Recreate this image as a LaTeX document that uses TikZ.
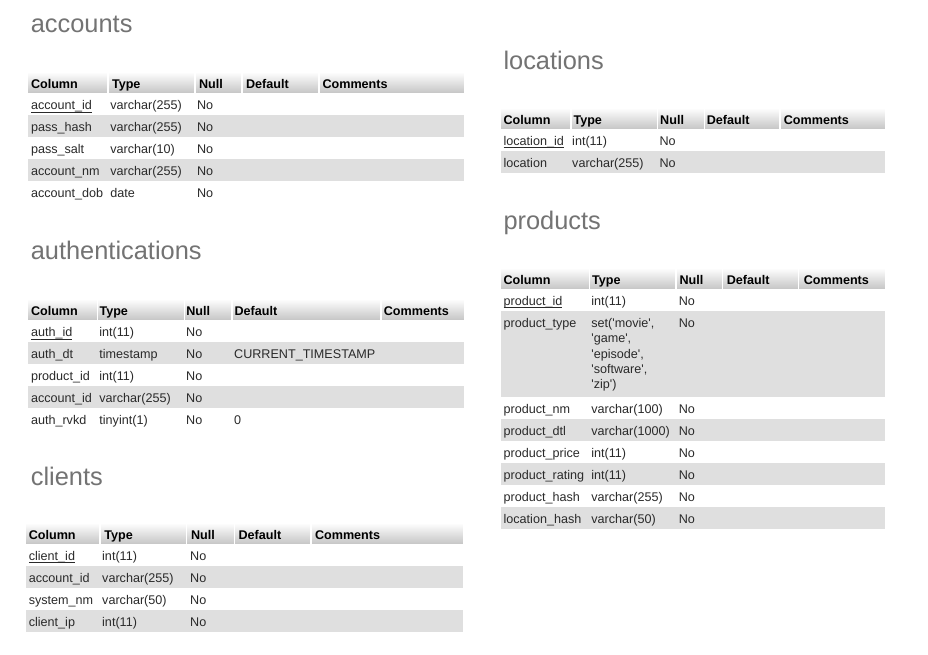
\documentclass[tikz,border=0pt]{standalone}
\usepackage{fontspec}
\setmainfont{Liberation Sans}
\definecolor{rowgray}{HTML}{DFDFDF}
\definecolor{hdrbot}{HTML}{C8C8C8}
\definecolor{titlec}{HTML}{737373}
\definecolor{txt}{HTML}{2A2A2A}
\newcommand\hcell[6]{% name, x0, x1, ytop, textx, text
  \foreach \k in {0,...,20}{%
    \pgfmathtruncatemacro\pct{5*\k}%
    \fill[hdrbot!\pct!white] (#2,#4+\k) rectangle (#3,#4+\k+1.02);}
  \node[hdrtext] (#1) at (#5,#4+16.3) {#6};}
\newcommand\dcell[4]{% name, x, baseline, text
  \node[celltext] (#1) at (#2,#3) {#4};}
\newcommand\grayrow[4]{\fill[rowgray] (#1,#2) rectangle (#3,#4);}
\newcommand\ulnode[1]{\draw[ulline] ([yshift=-2.2pt]#1.base west) -- ([yshift=-2.2pt]#1.base east);}
\newcommand\q{\textquotesingle}
\begin{document}
\begin{tikzpicture}[x=1pt,y=-1pt,
  hdrtext/.style={anchor=base west,inner sep=0pt,outer sep=0pt,font=\fontsize{12.6}{15}\selectfont\bfseries,text=black},
  celltext/.style={anchor=base west,inner sep=0pt,outer sep=0pt,font=\fontsize{12.6}{15}\selectfont,text=txt},
  titletext/.style={anchor=base west,inner sep=0pt,outer sep=0pt,font=\fontsize{25.4}{30}\selectfont,text=titlec},
  ulline/.style={draw=txt,line width=0.9pt}]
\fill[white] (0,0) rectangle (928,654);
\useasboundingbox (0,0) rectangle (928,654);

% ---------------- accounts ----------------
\node[titletext] (t-acc) at (30.8,32.3) {accounts};
\hcell{acc-h1}{28}{107}{72}{31}{Column}
\hcell{acc-h2}{109}{194}{72}{112}{Type}
\hcell{acc-h3}{196}{241}{72}{199}{Null}
\hcell{acc-h4}{243}{318}{72}{246}{Default}
\hcell{acc-h5}{320}{464}{72}{322.5}{Comments}
\grayrow{28}{115}{464}{137}
\grayrow{28}{159}{464}{181}
\dcell{acc-11}{31}{109.8}{account\_id}\ulnode{acc-11}
\dcell{acc-12}{110.3}{109.8}{varchar(255)}
\dcell{acc-13}{197}{109.8}{No}
\dcell{acc-21}{31}{131.8}{pass\_hash}
\dcell{acc-22}{110.3}{131.8}{varchar(255)}
\dcell{acc-23}{197}{131.8}{No}
\dcell{acc-31}{31}{153.8}{pass\_salt}
\dcell{acc-32}{110.3}{153.8}{varchar(10)}
\dcell{acc-33}{197}{153.8}{No}
\dcell{acc-41}{31}{175.8}{account\_nm}
\dcell{acc-42}{110.3}{175.8}{varchar(255)}
\dcell{acc-43}{197}{175.8}{No}
\dcell{acc-51}{31}{197.8}{account\_dob}
\dcell{acc-52}{110.3}{197.8}{date}
\dcell{acc-53}{197}{197.8}{No}

% ---------------- authentications ----------------
\node[titletext] (t-auth) at (30.8,259.3) {authentications};
\hcell{au-h1}{28}{96.5}{299}{31}{Column}
\hcell{au-h2}{98}{183.5}{299}{99.5}{Type}
\hcell{au-h3}{185}{231}{299}{186.3}{Null}
\hcell{au-h4}{232.5}{380}{299}{234.6}{Default}
\hcell{au-h5}{381.5}{464}{299}{383.8}{Comments}
\grayrow{28}{342}{464}{364}
\grayrow{28}{386}{464}{408}
\dcell{au-11}{31}{336.8}{auth\_id}\ulnode{au-11}
\dcell{au-12}{99.4}{336.8}{int(11)}
\dcell{au-13}{186.2}{336.8}{No}
\dcell{au-21}{31}{358.8}{auth\_dt}
\dcell{au-22}{99.4}{358.8}{timestamp}
\dcell{au-23}{186.2}{358.8}{No}
\dcell{au-24}{234.2}{358.8}{CURRENT\_TIMESTAMP}
\dcell{au-31}{31}{380.8}{product\_id}
\dcell{au-32}{99.4}{380.8}{int(11)}
\dcell{au-33}{186.2}{380.8}{No}
\dcell{au-41}{31}{402.8}{account\_id}
\dcell{au-42}{99.4}{402.8}{varchar(255)}
\dcell{au-43}{186.2}{402.8}{No}
\dcell{au-51}{31}{424.8}{auth\_rvkd}
\dcell{au-52}{99.4}{424.8}{tinyint(1)}
\dcell{au-53}{186.2}{424.8}{No}
\dcell{au-54}{234.2}{424.8}{0}

% ---------------- clients ----------------
\node[titletext] (t-cli) at (30.8,485) {clients};
\hcell{cl-h1}{26}{99.3}{523}{28.8}{Column}
\hcell{cl-h2}{100.7}{186}{523}{104.3}{Type}
\hcell{cl-h3}{187.4}{233.6}{523}{191}{Null}
\hcell{cl-h4}{235}{310.3}{523}{238.5}{Default}
\hcell{cl-h5}{311.7}{462.5}{523}{315}{Comments}
\grayrow{26}{566}{462.5}{588}
\grayrow{26}{610}{462.5}{632}
\dcell{cl-11}{28.8}{560.6}{client\_id}\ulnode{cl-11}
\dcell{cl-12}{102.2}{560.6}{int(11)}
\dcell{cl-13}{190.2}{560.6}{No}
\dcell{cl-21}{28.8}{582.6}{account\_id}
\dcell{cl-22}{102.2}{582.6}{varchar(255)}
\dcell{cl-23}{190.2}{582.6}{No}
\dcell{cl-31}{28.8}{604.6}{system\_nm}
\dcell{cl-32}{102.2}{604.6}{varchar(50)}
\dcell{cl-33}{190.2}{604.6}{No}
\dcell{cl-41}{28.8}{626.6}{client\_ip}
\dcell{cl-42}{102.2}{626.6}{int(11)}
\dcell{cl-43}{190.2}{626.6}{No}

% ---------------- locations ----------------
\node[titletext] (t-loc) at (503.5,69.3) {locations};
\hcell{lo-h1}{501}{570.3}{108}{503.6}{Column}
\hcell{lo-h2}{571.7}{657}{108}{573.5}{Type}
\hcell{lo-h3}{658.4}{703.6}{108}{660.2}{Null}
\hcell{lo-h4}{705}{779.3}{108}{706.8}{Default}
\hcell{lo-h5}{780.7}{885}{108}{783.8}{Comments}
\grayrow{501}{151}{885}{173}
\dcell{lo-11}{503.6}{145.6}{location\_id}\ulnode{lo-11}
\dcell{lo-12}{572.2}{145.6}{int(11)}
\dcell{lo-13}{659.6}{145.6}{No}
\dcell{lo-21}{503.6}{167.6}{location}
\dcell{lo-22}{572.2}{167.6}{varchar(255)}
\dcell{lo-23}{659.6}{167.6}{No}

% ---------------- products ----------------
\node[titletext] (t-prod) at (503.5,229.3) {products};
\hcell{pr-h1}{501}{588.6}{268}{503.6}{Column}
\hcell{pr-h2}{590}{675.3}{268}{592.2}{Type}
\hcell{pr-h3}{676.7}{722}{268}{679.5}{Null}
\hcell{pr-h4}{723.4}{797.6}{268}{726.8}{Default}
\hcell{pr-h5}{799}{885}{268}{803.8}{Comments}
\grayrow{501}{311}{885}{397}
\grayrow{501}{419}{885}{441}
\grayrow{501}{463}{885}{485}
\grayrow{501}{507}{885}{529}
\dcell{pr-11}{503.6}{305.6}{product\_id}\ulnode{pr-11}
\dcell{pr-12}{591.4}{305.6}{int(11)}
\dcell{pr-13}{678.8}{305.6}{No}
\dcell{pr-21}{503.6}{327.6}{product\_type}
\dcell{pr-22a}{591.4}{327.6}{set(\q movie\q ,}
\dcell{pr-22b}{591.4}{342.9}{\q game\q ,}
\dcell{pr-22c}{591.4}{358.2}{\q episode\q ,}
\dcell{pr-22d}{591.4}{373.5}{\q software\q ,}
\dcell{pr-22e}{591.4}{388.8}{\q zip\q )}
\dcell{pr-23}{678.8}{327.6}{No}
\dcell{pr-31}{503.6}{413.6}{product\_nm}
\dcell{pr-32}{591.4}{413.6}{varchar(100)}
\dcell{pr-33}{678.8}{413.6}{No}
\dcell{pr-41}{503.6}{435.6}{product\_dtl}
\dcell{pr-42}{591.4}{435.6}{varchar(1000)}
\dcell{pr-43}{678.8}{435.6}{No}
\dcell{pr-51}{503.6}{457.6}{product\_price}
\dcell{pr-52}{591.4}{457.6}{int(11)}
\dcell{pr-53}{678.8}{457.6}{No}
\dcell{pr-61}{503.6}{479.6}{product\_rating}
\dcell{pr-62}{591.4}{479.6}{int(11)}
\dcell{pr-63}{678.8}{479.6}{No}
\dcell{pr-71}{503.6}{501.6}{product\_hash}
\dcell{pr-72}{591.4}{501.6}{varchar(255)}
\dcell{pr-73}{678.8}{501.6}{No}
\dcell{pr-81}{503.6}{523.6}{location\_hash}
\dcell{pr-82}{591.4}{523.6}{varchar(50)}
\dcell{pr-83}{678.8}{523.6}{No}
\end{tikzpicture}
\end{document}
